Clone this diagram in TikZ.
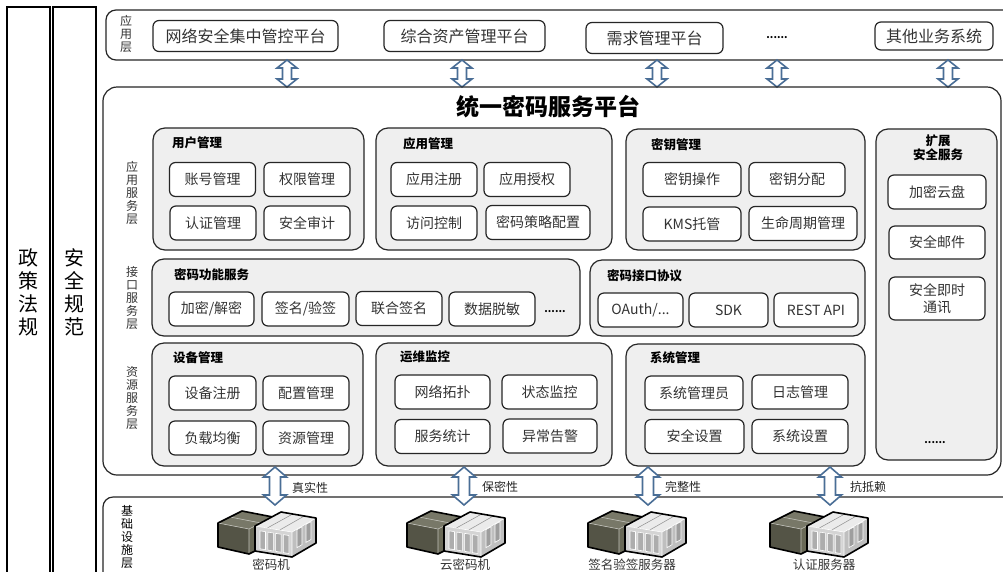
\documentclass[tikz,border=0pt]{standalone}
\usepackage{fontspec}
\setmainfont{Noto Sans CJK SC}
\usetikzlibrary{positioning}

\definecolor{flowblue}{HTML}{4A6E96}
\definecolor{groupgray}{HTML}{EFEFEF}
\definecolor{darkunit}{HTML}{696957}

\tikzset{
  box/.style={draw=black!85, line width=1.2pt, rounded corners=6pt, fill=white,
    minimum width=86pt, minimum height=34pt, inner sep=1pt, text=black!80,
    font=\fontsize{14}{16}\selectfont},
  appbox/.style={box, minimum height=31pt, font=\fontsize{16}{18}\selectfont},
  layer/.style={draw=black!85, line width=1.2pt, rounded corners=10pt},
  group/.style={draw=black!85, line width=1.2pt, rounded corners=12pt, fill=groupgray},
  grouptitle/.style={anchor=west, inner sep=0pt, font=\fontsize{12.5}{14}\selectfont\bfseries},
  vlabel/.style={align=center, inner sep=0pt, text=black!80, font=\fontsize{12}{13}\selectfont},
  more/.style={inner sep=0pt, font=\fontsize{10}{12}\selectfont\bfseries},
  tag/.style={anchor=west, inner sep=0pt, text=black!85, font=\fontsize{12}{14}\selectfont},
  % hollow two-way arrow: half length, head half width, shaft half width, head length
  pics/biarrow/.style n args={4}{code={
    \draw[flowblue, line width=1.6pt, fill=white, line join=miter]
      (0,-#1) -- (#2,-#1+#4) -- (#3,-#1+#4) -- (#3,#1-#4) -- (#2,#1-#4) -- (0,#1)
      -- (-#2,#1-#4) -- (-#3,#1-#4) -- (-#3,-#1+#4) -- (-#2,-#1+#4) -- cycle;
  }},
  % dark unit behind a light rack unit
  pics/server/.style={code={
    \fill[darkunit!90!white] (9,23) -- (33,11) -- (64,17) -- (40,29) -- cycle;
    \fill[darkunit!80!black] (9,23) -- (40,29) -- (40,54) -- (9,47) -- cycle;
    \fill[darkunit] (40,29) -- (64,17) -- (64,42) -- (40,54) -- cycle;
    \draw[darkunit!40!white, line width=0.6pt] (9,23) -- (40,29) -- (64,17) (40,29) -- (40,54) (21,17) -- (52,23);
    \draw[line width=1.6pt, line join=round] (9,23) -- (33,11) -- (64,17) -- (64,42) -- (40,54) -- (9,47) -- cycle;
    \fill[black!8] (46,26) -- (72,12) -- (107,18) -- (83,32) -- cycle;
    \fill[black!17] (46,26) -- (83,32) -- (83,57) -- (46,51) -- cycle;
    \fill[black!25] (83,32) -- (107,18) -- (107,43) -- (83,57) -- cycle;
    \draw[black!45, line width=0.5pt] (58.3,28) -- (83.7,14) (70.7,30) -- (95.3,16);
    \foreach \s in {0,...,3}
      \draw[white, line width=0.6pt, fill=black!32]
        ({51+7.8*\s},{30+(5+7.8*\s)*0.162}) -- ++(5.5,0.9) -- ++(0,18) -- ++(-5.5,-0.9) -- cycle;
    \foreach \s in {0,1}
      \draw[white, line width=0.6pt, fill=black!38]
        ({88+9*\s},{32.5-(5+9*\s)*0.58}) -- ++(5,-2.9) -- ++(0,18) -- ++(-5,2.9) -- cycle;
    \draw[white, line width=0.6pt] (46,26) -- (83,32) -- (107,18) (83,32) -- (83,57);
    \draw[line width=1.6pt, line join=round] (46,26) -- (72,12) -- (107,18) -- (107,43) -- (83,57) -- (46,51) -- cycle;
  }},
}

\begin{document}
\begin{tikzpicture}[x=1pt, y=-1pt]
\useasboundingbox[fill=white] (0,0) rectangle (1003,571);

% side columns
\draw[line width=1.2pt] (7,7) rectangle (50,600);
\draw[line width=1.2pt] (53,7) rectangle (96,600);
\node[vlabel, font=\fontsize{20}{23}\selectfont, text=black] (laws) at (28,292) {政\\策\\法\\规};
\node[vlabel, font=\fontsize{20}{23}\selectfont, text=black] (norms) at (74,292) {安\\全\\规\\范};

% application layer
\draw[layer] (106,10) rectangle (1015,60);
\node[vlabel] (applbl) at (126,34) {应\\用\\层};
\node[appbox, minimum width=185pt] (secmgmt) at (245.5,36) {网络安全集中管控平台};
\node[appbox, minimum width=161pt] (assets) at (464.5,36) {综合资产管理平台};
\node[appbox, minimum width=137pt] (demand) at (654.5,38) {需求管理平台};
\node[more] (appmore) at (777,38) {......};
\node[appbox, minimum width=118pt, minimum height=28pt] (others) at (934,36) {其他业务系统};

\foreach \x in {287,462,657,777,948}
  \pic at (\x,73.5) {biarrow={13.5}{10}{4.5}{8}};

% platform
\draw[layer, rounded corners=14pt] (103,87) rectangle (1001,475);
\node[font=\fontsize{23}{26}\selectfont\bfseries] (platform) at (548,107) {统一密码服务平台};

\node[vlabel] (svclbl) at (132,193) {应\\用\\服\\务\\层};
\node[vlabel] (ifclbl) at (132,298) {接\\口\\服\\务\\层};
\node[vlabel] (reslbl) at (132,398) {资\\源\\服\\务\\层};

% application services
\draw[group] (153,128) rectangle (364,250);
\node[grouptitle] (user) at (172,143) {用户管理};
\node[box] (account) at (212.5,179.5) {账号管理};
\node[box] (rights) at (307,179.5) {权限管理};
\node[box] (authn) at (213,223) {认证管理};
\node[box] (audit) at (307,223) {安全审计};

\draw[group] (376,128) rectangle (612,250);
\node[grouptitle] (app) at (403,144) {应用管理};
\node[box] (appreg) at (434,179.5) {应用注册};
\node[box] (appauth) at (527,179.5) {应用授权};
\node[box] (access) at (434,223) {访问控制};
\node[box, minimum width=104pt] (strategy) at (538,222.5) {密码策略配置};

\draw[group] (626,129) rectangle (865,250);
\node[grouptitle] (key) at (651,145) {密钥管理};
\node[box, minimum width=98pt] (keyop) at (692,179.5) {密钥操作};
\node[box, minimum width=96pt] (keydist) at (797,179.5) {密钥分配};
\node[box, minimum width=98pt] (kms) at (692,224) {KMS托管};
\node[box, minimum width=108pt] (lifecycle) at (803,223.5) {生命周期管理};

\draw[group] (876,129) rectangle (997,460);
\node[vlabel, font=\fontsize{12.5}{14}\selectfont\bfseries, text=black] (ext) at (938,148) {扩展\\安全服务};
\node[box, minimum width=98pt] (clouddisk) at (937,192) {加密云盘};
\node[box, minimum width=96pt, minimum height=33pt] (mail) at (937,242.5) {安全邮件};
\node[box, minimum width=96pt, minimum height=43pt, align=center,
  font=\fontsize{14}{17}\selectfont] (im) at (937,298.5) {安全即时\\通讯};
\node[more] (extmore) at (935,443) {......};

% interface services
\draw[group] (152,259) rectangle (580,336);
\node[grouptitle] (crypto) at (174,275) {密码功能服务};
\node[box, minimum width=85pt] (encdec) at (211.5,309) {加密/解密};
\node[box, minimum width=87pt] (signverify) at (305.5,309) {签名/验签};
\node[box] (cosign) at (399,308.5) {联合签名};
\node[box] (masking) at (492,309) {数据脱敏};
\node[more] (cryptomore) at (555,312) {......};

\draw[group] (590,260) rectangle (865,336);
\node[grouptitle] (proto) at (607,276) {密码接口协议};
\node[box, minimum width=85pt] (oauth) at (640.5,310) {OAuth/...};
\node[box, minimum width=79pt] (sdk) at (728.5,310) {SDK};
\node[box, minimum width=84pt] (rest) at (816,310) {REST API};

% resource services
\draw[group] (152,343) rectangle (363,466);
\node[grouptitle] (device) at (173,358) {设备管理};
\node[box, minimum width=87pt] (devreg) at (212.5,393) {设备注册};
\node[box] (config) at (306,393) {配置管理};
\node[box, minimum width=87pt] (balance) at (212.5,438) {负载均衡};
\node[box] (resource) at (306,438) {资源管理};

\draw[group] (376,343) rectangle (612,466);
\node[grouptitle] (ops) at (400,357) {运维监控};
\node[box, minimum width=95pt] (topology) at (442.5,392) {网络拓扑};
\node[box, minimum width=95pt] (status) at (549.5,392) {状态监控};
\node[box, minimum width=95pt] (stats) at (442.5,436.5) {服务统计};
\node[box, minimum width=94pt] (alarm) at (550,436) {异常告警};

\draw[group] (626,344) rectangle (865,466);
\node[grouptitle] (sys) at (650,358) {系统管理};
\node[box, minimum width=98pt] (sysadmin) at (694,393) {系统管理员};
\node[box, minimum width=96pt] (logs) at (800,392) {日志管理};
\node[box, minimum width=99pt] (secset) at (694.5,436.5) {安全设置};
\node[box, minimum width=96pt] (sysset) at (800,436.5) {系统设置};

% infrastructure layer
\draw[layer] (103,497) rectangle (1015,600);
\node[vlabel, text=black] (infralbl) at (127,537) {基\\础\\设\\施\\层};

\foreach \x/\o in {275/209, 464/398, 648/579, 830/761} {
  \pic at (\o,500) {server};
  \pic at (\x,486) {biarrow={19}{11.5}{5.5}{10}};
}

\node[tag] (authentic) at (292,488) {真实性};
\node[tag] (secret) at (482,487) {保密性};
\node[tag] (integrity) at (665,487) {完整性};
\node[tag] (nonrepud) at (850,487) {抗抵赖};

\node[vlabel, font=\fontsize{12.5}{14}\selectfont] (hsm) at (271,565) {密码机};
\node[vlabel, font=\fontsize{12.5}{14}\selectfont] (cloudhsm) at (465,565) {云密码机};
\node[vlabel, font=\fontsize{12.5}{14}\selectfont] (signsrv) at (632,565) {签名验签服务器};
\node[vlabel, font=\fontsize{12.5}{14}\selectfont] (authsrv) at (824,565) {认证服务器};
\end{tikzpicture}
\end{document}
